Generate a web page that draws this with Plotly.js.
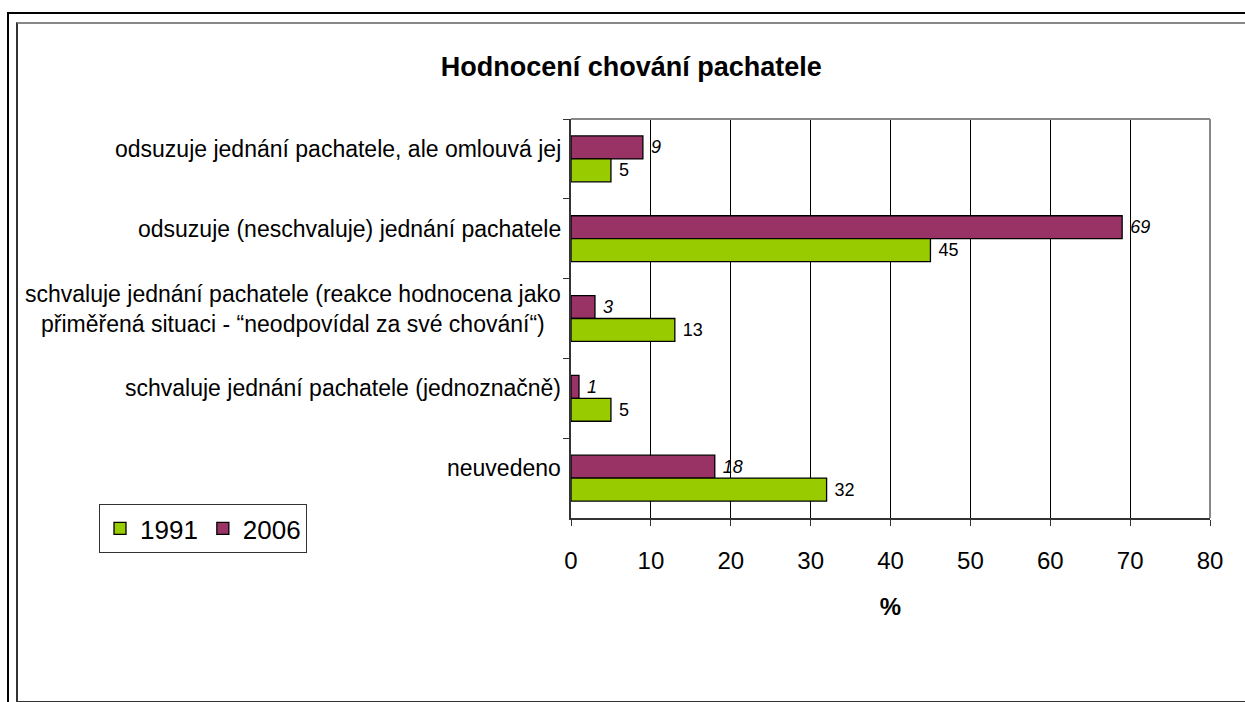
<!DOCTYPE html>
<html>
<head>
<meta charset="utf-8">
<script src="https://cdn.plot.ly/plotly-3.0.1.min.js"></script>
<style>
  html, body { margin:0; padding:0; background:#fff; }
  #chart { width:1245px; height:702px; position:relative; }
  .frame { position:absolute; pointer-events:none; }
</style>
</head>
<body>
<div id="chart"></div>
<div class="frame" style="left:7px; top:12px; width:1300px; height:800px; border-left:2px solid #000; border-top:2px solid #000;"></div>
<div class="frame" style="left:16px; top:22px; width:1300px; height:677px; border-left:2px solid #333; border-top:2px solid #888; border-bottom:2px solid #333;"></div>
<script>
// categories, top to bottom
const categories = [
  "odsuzuje jednání pachatele, ale omlouvá jej",
  "odsuzuje (neschvaluje) jednání pachatele",
  "schvaluje jednání pachatele (reakce hodnocena jako<br>přiměřená situaci - “neodpovídal za své chování“)",
  "schvaluje jednání pachatele (jednoznačně)",
  "neuvedeno"
];
const values1991 = [5, 45, 13, 5, 32];
const values2006 = [9, 69, 3, 1, 18];
const seriesNames = ["1991", "2006"];
const xTicks = [0, 10, 20, 30, 40, 50, 60, 70, 80];

const FONT = "Liberation Sans, Arial, sans-serif";

const traces = [
  {
    type: "bar", orientation: "h", name: seriesNames[1],
    y: categories, x: values2006,
    marker: { color: "#993366", line: { color: "#000", width: 1.3 } },
    text: values2006.map(String), texttemplate: "\u00a0<i>%{x}</i>",
    textposition: "outside", cliponaxis: false,
    textfont: { family: FONT, size: 18, color: "#000" }
  },
  {
    type: "bar", orientation: "h", name: seriesNames[0],
    y: categories, x: values1991,
    marker: { color: "#99CC00", line: { color: "#000", width: 1.3 } },
    text: values1991.map(String), texttemplate: "\u00a0%{x}",
    textposition: "outside", cliponaxis: false,
    textfont: { family: FONT, size: 18, color: "#000" }
  }
];

const annotations = categories.map(c => ({
  xref: "paper", yref: "y", x: 0, y: c,
  text: c, showarrow: false,
  xanchor: "right", yanchor: "middle", align: "center",
  xshift: -8, yshift: 10,
  font: { family: FONT, size: 23, color: "#000" }
}));

const layout = {
  width: 1245, height: 702,
  paper_bgcolor: "#fff", plot_bgcolor: "#fff",
  margin: { l: 571, r: 35, t: 119, b: 184 },
  font: { family: FONT, color: "#000" },
  title: {
    text: "<b>Hodnocení chování pachatele</b>",
    font: { family: FONT, size: 27, color: "#000" },
    x: 0.507, xref: "container", xanchor: "center",
    y: 1 - 67/702, yref: "container", yanchor: "middle"
  },
  barmode: "group", bargap: 0.425, bargroupgap: 0,
  xaxis: {
    range: [0, 80], tickvals: xTicks, ticktext: xTicks.map(String),
    showgrid: true, gridcolor: "#000", gridwidth: 1,
    showline: true, linecolor: "#333", linewidth: 2,
    ticks: "outside", ticklen: 6, tickcolor: "#333", tickwidth: 1,
    tickfont: { family: FONT, size: 24, color: "#000" },
    ticklabelstandoff: 14,
    zeroline: false,
    title: { text: "<b>%</b>", font: { family: FONT, size: 24, color: "#000" }, standoff: 25 }
  },
  yaxis: {
    type: "category", autorange: "reversed",
    tickson: "boundaries", ticks: "outside", ticklen: 6, tickcolor: "#333",
    showticklabels: false, showgrid: false,
    showline: true, linecolor: "#333", linewidth: 2
  },
  shapes: [
    { type: "line", xref: "paper", yref: "paper", x0: 0, x1: 1, y0: 1, y1: 1, line: { color: "#888", width: 2 } },
    { type: "line", xref: "paper", yref: "paper", x0: 1, x1: 1, y0: 0, y1: 1, line: { color: "#888", width: 2 } }
  ],
  showlegend: true,
  legend: {
    orientation: "h", traceorder: "reversed",
    x: (99 - 571) / 639, xanchor: "left", y: (518 - 504) / 399, yanchor: "top",
    bgcolor: "#fff", bordercolor: "#333", borderwidth: 1,
    font: { family: FONT, size: 26, color: "#000" },
    itemwidth: 30
  },
  annotations: annotations
};

Plotly.newPlot("chart", traces, layout, { displayModeBar: false, staticPlot: true });
</script>
</body>
</html>
